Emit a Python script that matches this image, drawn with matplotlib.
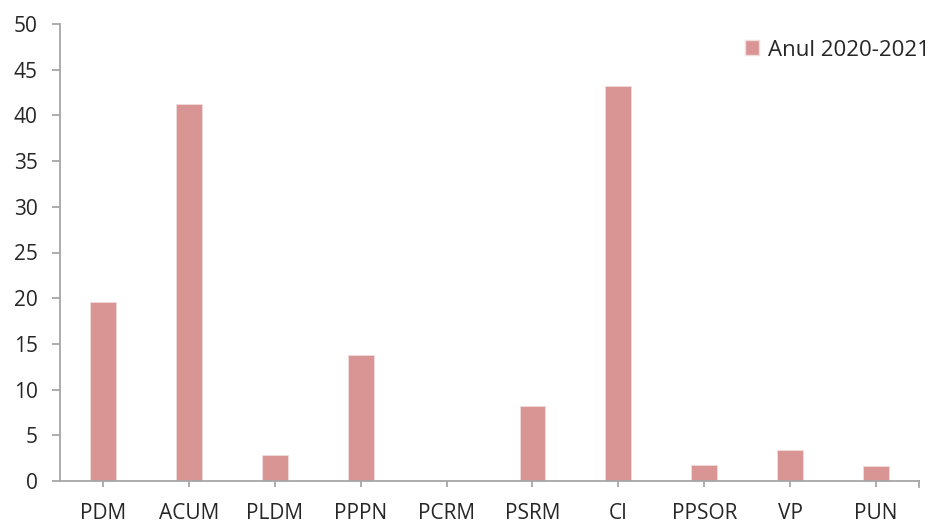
import matplotlib
matplotlib.use("Agg")
import matplotlib.pyplot as plt
from matplotlib.patches import Patch

categories = ["PDM", "ACUM", "PLDM", "PPPN", "PCRM", "PSRM", "CI", "PPSOR", "VP", "PUN"]
values = [19.6, 41.3, 2.8, 13.8, 0.0, 8.2, 43.2, 1.7, 3.4, 1.6]
series_name = "Anul 2020-2021"
yticks = [0, 5, 10, 15, 20, 25, 30, 35, 40, 45, 50]

plt.rcParams['font.family'] = ['Open Sans', 'DejaVu Sans']
W, H = 929, 524
fig = plt.figure(figsize=(W/100, H/100), dpi=100)
ax = fig.add_axes([60/W, (H-481)/H, (919-60)/W, (481-24)/H])

bar_color = "#D99594"
x = list(range(len(categories)))
ax.bar(x, values, width=0.30, color=bar_color, edgecolor="#F2DCDB", linewidth=0.6)

ax.set_xlim(-0.5, len(categories)-0.5)
ax.set_ylim(0, 50)
ax.set_yticks(yticks)
ax.set_xticks(x)
ax.set_xticklabels(categories)

spine_c = "#A6A6A6"
fs = 15
for s in ["top", "right"]:
    ax.spines[s].set_visible(False)
for s in ["left", "bottom"]:
    ax.spines[s].set_color(spine_c)
    ax.spines[s].set_linewidth(1.3)
ax.tick_params(axis="both", colors=spine_c, labelcolor="#262626", labelsize=fs, width=1.3, direction="out")
ax.tick_params(axis="x", pad=11.5, length=4.5)
ax.tick_params(axis="y", pad=10.5, length=5.5)
# end tick at right end of category axis
ax.plot([len(categories)-0.5]*2, [0, -0.013], transform=ax.get_xaxis_transform(), color=spine_c, lw=1.3, clip_on=False)

leg = fig.legend(handles=[Patch(facecolor=bar_color, edgecolor="#F2DCDB", label=series_name)],
                 loc="center left", bbox_to_anchor=(745/W, 1-50/H), frameon=False,
                 fontsize=16, handlelength=0.62, handleheight=0.62, handletextpad=0.42,
                 borderpad=0, borderaxespad=0)
for t in leg.get_texts():
    t.set_color("#262626")

fig.savefig("out.png", dpi=100)
